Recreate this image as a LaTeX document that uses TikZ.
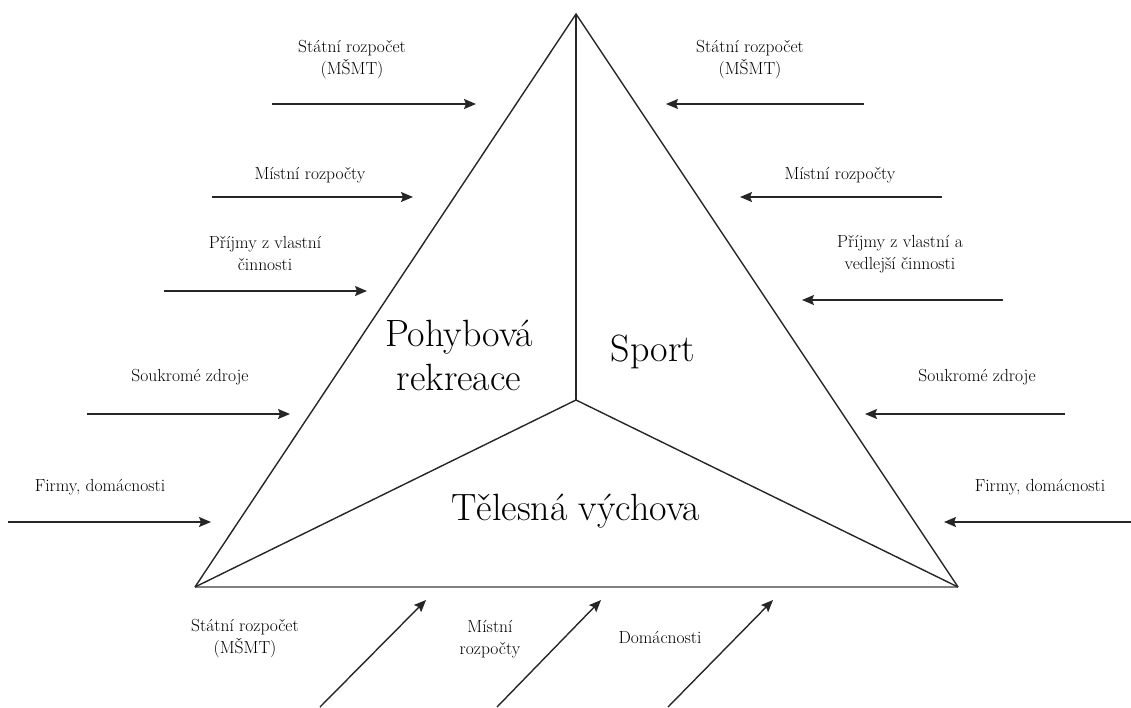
\documentclass[tikz,border=0pt]{standalone}
\usepackage{fontspec}
\usetikzlibrary{arrows.meta}
\tikzset{
  edge/.style={line width=1.4pt, draw=black!85},
  base/.style={line width=2.6pt, draw=black!50},
  flow/.style={line width=1.4pt, draw=black!85, -{Stealth[length=12pt,width=10pt,inset=2pt]}},
  small/.style={font=\rmfamily\fontsize{17.5}{22}\selectfont, align=center, inner sep=0pt},
  big/.style={font=\rmfamily\fontsize{38}{44}\selectfont, align=center, inner sep=0pt}
}
\begin{document}
\begin{tikzpicture}[x=1pt,y=-1pt]
\useasboundingbox (0,0) rectangle (1131,707);
% triangle
\coordinate (T) at (576,14);
\coordinate (L) at (195,587);
\coordinate (R) at (958,587);
\coordinate (C) at (576,400);
\draw[base] (L) -- (R);
\draw[edge] (L) -- (T) -- (R);
\draw[edge] (T) -- (C);
\draw[edge] (L) -- (C) -- (R);
% big labels
\node[big] (pr) at (459,355) {Pohybová\\rekreace};
\node[big] (sp) at (653,352) {Sport};
\node[big] (tv) at (576,511) {Tělesná výchova};
% left arrows
\coordinate (l1s) at (272,104); \coordinate (l1e) at (476,104);
\coordinate (l2s) at (212,197); \coordinate (l2e) at (413,197);
\coordinate (l3s) at (164,291); \coordinate (l3e) at (367,291);
\coordinate (l4s) at (87,414);  \coordinate (l4e) at (290,414);
\coordinate (l5s) at (8,522);   \coordinate (l5e) at (211,522);
\foreach \i in {1,...,5} {\draw[flow] (l\i s) -- (l\i e);}
\node[small] (lt1) at (352,60) {Státní rozpočet\\(MŠMT)};
\node[small] (lt2) at (310,175) {Místní rozpočty};
\node[small] (lt3) at (265,253) {Příjmy z vlastní\\činnosti};
\node[small] (lt4) at (190,377) {Soukromé zdroje};
\node[small] (lt5) at (100,487) {Firmy, domácnosti};
% right arrows
\coordinate (r1s) at (864,104);  \coordinate (r1e) at (666,104);
\coordinate (r2s) at (942,197);  \coordinate (r2e) at (740,197);
\coordinate (r3s) at (1003,300); \coordinate (r3e) at (802,300);
\coordinate (r4s) at (1065,414); \coordinate (r4e) at (865,414);
\coordinate (r5s) at (1131,522); \coordinate (r5e) at (944,522);
\foreach \i in {1,...,5} {\draw[flow] (r\i s) -- (r\i e);}
\node[small] (rt1) at (750,60) {Státní rozpočet\\(MŠMT)};
\node[small] (rt2) at (840,175) {Místní rozpočty};
\node[small] (rt3) at (900,254) {Příjmy z vlastní a\\vedlejší činnosti};
\node[small] (rt4) at (977,377) {Soukromé zdroje};
\node[small] (rt5) at (1040,487) {Firmy, domácnosti};
% bottom arrows
\coordinate (b1s) at (320,707); \coordinate (b1e) at (426,600);
\coordinate (b2s) at (497,707); \coordinate (b2e) at (601,600);
\coordinate (b3s) at (668,707); \coordinate (b3e) at (773,600);
\foreach \i in {1,...,3} {\draw[flow] (b\i s) -- (b\i e);}
\node[small] (bt1) at (245,639) {Státní rozpočet\\(MŠMT)};
\node[small] (bt2) at (490,639) {Místní\\rozpočty};
\node[small] (bt3) at (660,637) {Domácnosti};
\end{tikzpicture}
\end{document}
